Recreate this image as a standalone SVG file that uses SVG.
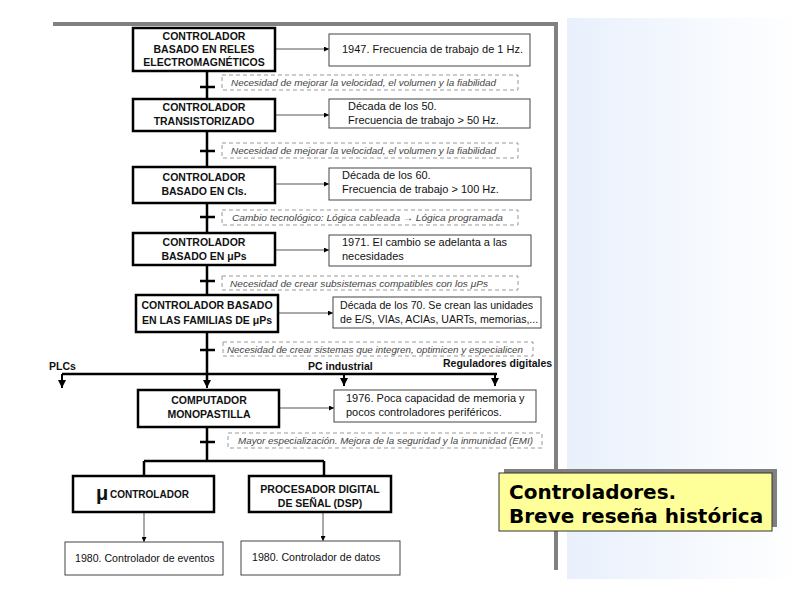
<svg xmlns="http://www.w3.org/2000/svg" width="809" height="604" viewBox="0 0 809 604">
<defs>
<linearGradient id="bg" x1="0" y1="0" x2="1" y2="0">
<stop offset="0" stop-color="#e9f0fc"/>
<stop offset="1" stop-color="#ffffff"/>
</linearGradient>
<marker id="ah" viewBox="0 0 10 10" refX="10" refY="5" markerWidth="5" markerHeight="5" orient="auto" markerUnits="userSpaceOnUse">
<path d="M0,0 L10,5 L0,10 z" fill="#000"/>
</marker>
<marker id="ahb" viewBox="0 0 10 10" refX="10" refY="5" markerWidth="8" markerHeight="8" orient="auto" markerUnits="userSpaceOnUse">
<path d="M0,0 L10,5 L0,10 z" fill="#000"/>
</marker>
<style>
.box{fill:#fff;stroke:#000;stroke-width:2.5}
.info{fill:#fff;stroke:#444;stroke-width:1}
.dash{fill:#fff;stroke:#999;stroke-width:1;stroke-dasharray:4 3}
.bt{font-family:"Liberation Sans",Arial,sans-serif;font-weight:bold;font-size:10.5px;text-anchor:middle;fill:#111}
.it{font-family:"Liberation Sans",Arial,sans-serif;font-size:11px;fill:#111}
.dt{font-family:"Liberation Sans",Arial,sans-serif;font-style:italic;font-size:9.8px;fill:#444}
.lb{font-family:"Liberation Sans",Arial,sans-serif;font-weight:bold;font-size:10.5px;fill:#111}
.thin{stroke:#555;stroke-width:1;fill:none}
.main{stroke:#000;stroke-width:2.5;fill:none}
.tt{font-family:"DejaVu Sans",Verdana,sans-serif;font-weight:bold;font-size:20px;fill:#000}
</style>
</defs>
<rect x="0" y="0" width="809" height="604" fill="#fff"/>
<rect x="567" y="18" width="233" height="561" fill="url(#bg)"/>
<path d="M53,24 H556 V570" fill="none" stroke="#808080" stroke-width="4"/>

<g id="connectors">
<path class="main" d="M207,72 V99 M207,131 V167 M207,203 V233 M207,265 V295 M207,332 V382"/>
<path class="main" d="M207,427 V461 M144,461 H324 M144,461 V476 M324,461 V476"/>
<path class="main" d="M200,87 H215 M200,151 H215 M200,217 H215 M200,281 H215 M200,350 H215 M200,442 H215"/>
<path d="M207,374 V388" stroke="#000" stroke-width="2" marker-end="url(#ahb)"/>
<path d="M62,374 H497" stroke="#000" stroke-width="2.5" fill="none"/>
<path d="M62,374 V388" stroke="#000" stroke-width="2" marker-end="url(#ahb)"/>
<path d="M344,374 V386" stroke="#000" stroke-width="2" marker-end="url(#ahb)"/>
<path d="M495,374 V386" stroke="#000" stroke-width="2" marker-end="url(#ahb)"/>
<path class="thin" d="M275,49 H329" marker-end="url(#ah)"/>
<path class="thin" d="M275,115 H329" marker-end="url(#ah)"/>
<path class="thin" d="M275,184 H329" marker-end="url(#ah)"/>
<path class="thin" d="M275,250 H329" marker-end="url(#ah)"/>
<path class="thin" d="M278,313 H333" marker-end="url(#ah)"/>
<path class="thin" d="M279,408 H334" marker-end="url(#ah)"/>
<path class="thin" d="M144,512 V542" marker-end="url(#ah)"/>
<path class="thin" d="M323,512 V541" marker-end="url(#ah)"/>
</g>

<g id="n1"><rect class="box" x="133" y="28" width="142" height="43"/>
<text class="bt" x="204" y="40">CONTROLADOR</text>
<text class="bt" x="204" y="53">BASADO  EN RELES</text>
<text class="bt" x="204" y="66">ELECTROMAGNÉTICOS</text></g>
<g id="i1"><rect class="info" x="329" y="34" width="201" height="32"/>
<text class="it" x="342" y="53">1947.  Frecuencia de trabajo de 1 Hz.</text></g>
<g id="d1"><rect class="dash" x="222" y="75" width="296" height="15"/>
<text class="dt" x="231" y="86" textLength="265" lengthAdjust="spacingAndGlyphs">Necesidad de mejorar la velocidad, el volumen y la fiabilidad</text></g>

<g id="n2"><rect class="box" x="133" y="99" width="142" height="32"/>
<text class="bt" x="204" y="111">CONTROLADOR</text>
<text class="bt" x="204" y="125">TRANSISTORIZADO</text></g>
<g id="i2"><rect class="info" x="329" y="99" width="201" height="29"/>
<text class="it" x="348" y="110">Década de los 50.</text>
<text class="it" x="348" y="124">Frecuencia de trabajo &gt; 50 Hz.</text></g>
<g id="d2"><rect class="dash" x="222" y="143" width="296" height="15"/>
<text class="dt" x="231" y="154" textLength="265" lengthAdjust="spacingAndGlyphs">Necesidad de mejorar la velocidad, el volumen y la fiabilidad</text></g>

<g id="n3"><rect class="box" x="133" y="167" width="142" height="36"/>
<text class="bt" x="204" y="181">CONTROLADOR</text>
<text class="bt" x="204" y="195">BASADO EN CIs.</text></g>
<g id="i3"><rect class="info" x="329" y="168" width="202" height="32"/>
<text class="it" x="342" y="179">Década de los 60.</text>
<text class="it" x="342" y="193">Frecuencia de trabajo &gt; 100 Hz.</text></g>
<g id="d3"><rect class="dash" x="222" y="210" width="296" height="15"/>
<text class="dt" x="232" y="221" textLength="271" lengthAdjust="spacingAndGlyphs">Cambio tecnológico: Lógica cableada  →  Lógica programada</text></g>

<g id="n4"><rect class="box" x="133" y="233" width="142" height="32"/>
<text class="bt" x="204" y="246">CONTROLADOR</text>
<text class="bt" x="204" y="260">BASADO EN μPs</text></g>
<g id="i4"><rect class="info" x="329" y="235" width="202" height="31"/>
<text class="it" x="342" y="246">1971. El cambio se adelanta a las</text>
<text class="it" x="342" y="260">necesidades</text></g>
<g id="d4"><rect class="dash" x="222" y="276" width="296" height="14"/>
<text class="dt" x="230" y="286.5" textLength="258" lengthAdjust="spacingAndGlyphs">Necesidad de crear subsistemas compatibles con los  μPs</text></g>

<g id="n5"><rect class="box" x="136" y="295" width="142" height="37"/>
<text class="bt" x="207" y="309">CONTROLADOR BASADO</text>
<text class="bt" x="207" y="324">EN LAS FAMILIAS DE μPs</text></g>
<g id="i5"><rect class="info" x="333" y="297" width="208" height="31"/>
<text class="it" x="340" y="309" style="font-size:10.6px">Década de los 70. Se crean las unidades</text>
<text class="it" x="340" y="323" style="font-size:10.6px">de E/S, VIAs, ACIAs, UARTs, memorias,...</text></g>
<g id="d5"><rect class="dash" x="223" y="342" width="310" height="14"/>
<text class="dt" x="227" y="352.5" textLength="296" lengthAdjust="spacingAndGlyphs">Necesidad de crear sistemas que integren, optimicen y especialicen</text></g>

<g id="lbl"><text class="lb" x="49" y="370">PLCs</text>
<text class="lb" x="308" y="370">PC industrial</text>
<text class="lb" x="443" y="367">Reguladores digitales</text></g>

<g id="n6"><rect class="box" x="138" y="390" width="141" height="37"/>
<text class="bt" x="209" y="404">COMPUTADOR</text>
<text class="bt" x="209" y="418">MONOPASTILLA</text></g>
<g id="i6"><rect class="info" x="334" y="390" width="202" height="32"/>
<text class="it" x="346" y="402">1976. Poca capacidad de memoria y</text>
<text class="it" x="346" y="416">pocos controladores periféricos.</text></g>
<g id="d6"><rect class="dash" x="228" y="433" width="314" height="15"/>
<text class="dt" x="238" y="444" textLength="295" lengthAdjust="spacingAndGlyphs">Mayor especialización. Mejora de la seguridad y la inmunidad (EMI)</text></g>

<g id="n7"><rect class="box" x="73" y="476" width="141" height="36"/>
<text x="96" y="500" style="font-family:'Liberation Sans',sans-serif;font-weight:bold;font-size:20px" fill="#111">μ</text>
<text class="bt" x="110" y="498" style="font-size:10px;text-anchor:start">CONTROLADOR</text></g>
<g id="n8"><rect class="box" x="249" y="476" width="142" height="36"/>
<text class="bt" x="320" y="493">PROCESADOR DIGITAL</text>
<text class="bt" x="320" y="507">DE SEÑAL (DSP)</text></g>
<g id="i7"><rect class="info" x="65" y="542" width="158" height="33"/>
<text class="it" x="75" y="562" style="font-size:10.6px">1980. Controlador de eventos</text></g>
<g id="i8"><rect class="info" x="241" y="541" width="159" height="34"/>
<text class="it" x="252" y="561" style="font-size:10.6px">1980. Controlador de datos</text></g>

<g id="title"><rect x="504" y="469" width="273" height="58" fill="#808080"/>
<rect x="499" y="473" width="273" height="58" fill="#ffff99" stroke="#333" stroke-width="1"/>
<text class="tt" x="509" y="499">Controladores.</text>
<text class="tt" x="509" y="523">Breve reseña histórica</text></g>
</svg>
